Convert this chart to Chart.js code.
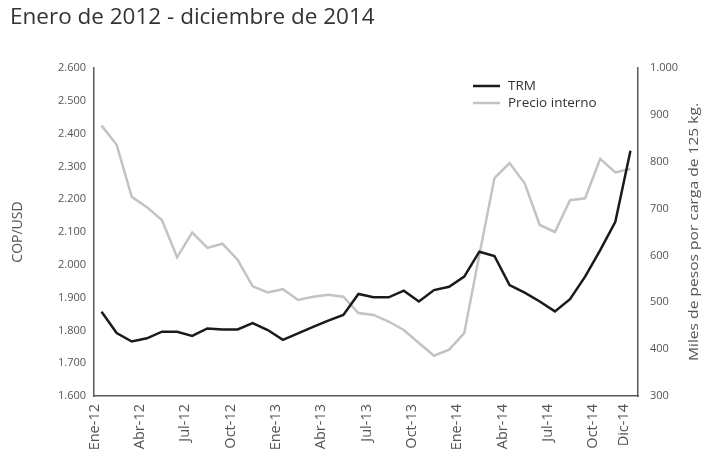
<!DOCTYPE html>
<html>
<head>
<meta charset="utf-8">
<script src="https://cdn.jsdelivr.net/npm/chart.js@4.4.1/dist/chart.umd.min.js"></script>
<style>
  html, body { margin: 0; padding: 0; background: #ffffff; }
  #wrap { width: 709px; height: 462px; }
</style>
</head>
<body>
<div id="wrap"><canvas id="c" width="709" height="462"></canvas></div>
<script>
const titleText = 'Enero de 2012 - diciembre de 2014';
const leftAxisTitle = 'COP/USD';
const rightAxisTitle = 'Miles de pesos por carga de 125 kg.';

const months = ['Ene','Feb','Mar','Abr','May','Jun','Jul','Ago','Sep','Oct','Nov','Dic'];
const years = ['12','13','14'];
const categories = [];
years.forEach(y => months.forEach(m => categories.push(m + '-' + y)));

const trm = [1857, 1792, 1766, 1776, 1796, 1796, 1783, 1806, 1803, 1803, 1822, 1801,
             1771, 1791, 1811, 1830, 1847, 1911, 1901, 1901, 1921, 1888, 1923, 1933,
             1964, 2040, 2027, 1938, 1915, 1888, 1858, 1895, 1964, 2045, 2131, 2348];
const precioInterno = [877, 836, 725, 703, 675, 596, 649, 616, 625, 591, 534, 521,
                       528, 505, 512, 516, 512, 477, 473, 459, 441, 413, 386, 399,
                       434, 601, 765, 797, 754, 665, 650, 718, 722, 806, 777, 785];

const leftTicks = { min: 1600, max: 2600, step: 100 };
const rightTicks = { min: 300, max: 1000, step: 100 };

const fmt = v => v.toLocaleString('de-DE', { minimumFractionDigits: 0 }).replace(',', '.');

const insideLegend = {
  id: 'insideLegend',
  afterDraw(chart) {
    const { ctx, chartArea } = chart;
    const x0 = chartArea.right - 165;
    chart.data.datasets.forEach((ds, i) => {
      const y = chartArea.top + 18 + i * 17;
      ctx.save();
      ctx.strokeStyle = ds.borderColor;
      ctx.lineWidth = 2.5;
      ctx.beginPath();
      ctx.moveTo(x0, y);
      ctx.lineTo(x0 + 27, y);
      ctx.stroke();
      ctx.fillStyle = '#333333';
      ctx.font = '13.5px "Open Sans"';
      ctx.textBaseline = 'middle';
      ctx.textAlign = 'left';
      ctx.fillText(ds.label, x0 + 35, y);
      ctx.restore();
    });
  }
};

const rightTitlePlugin = {
  id: 'rightTitle',
  afterDraw(chart) {
    const { ctx, chartArea } = chart;
    ctx.save();
    ctx.translate(chart.width - 14, (chartArea.top + chartArea.bottom) / 2);
    ctx.rotate(-Math.PI / 2);
    ctx.scale(1.3, 1);
    ctx.fillStyle = '#555555';
    ctx.font = '12px "Open Sans"';
    ctx.textAlign = 'center';
    ctx.textBaseline = 'middle';
    ctx.fillText(rightAxisTitle, 0, 0);
    ctx.restore();
  }
};

new Chart(document.getElementById('c'), {
  type: 'line',
  data: {
    labels: categories,
    datasets: [
      {
        label: 'TRM',
        data: trm,
        yAxisID: 'y',
        borderColor: '#1a1a1a',
        borderWidth: 2.5,
        pointRadius: 0,
        tension: 0,
        fill: false
      },
      {
        label: 'Precio interno',
        data: precioInterno,
        yAxisID: 'y2',
        borderColor: '#c3c3c3',
        borderWidth: 2.5,
        pointRadius: 0,
        tension: 0,
        fill: false
      }
    ]
  },
  options: {
    responsive: false,
    animation: false,
    layout: { padding: { left: 10, right: 0, top: 0, bottom: 0 } },
    plugins: {
      legend: { display: false },
      tooltip: { enabled: false },
      title: {
        display: true,
        text: titleText,
        align: 'start',
        color: '#333333',
        font: { family: '"Open Sans"', size: 22.5, weight: 'normal', lineHeight: 1.2 },
        padding: { top: 4, bottom: 37 }
      }
    },
    scales: {
      x: {
        type: 'category',
        offset: true,
        grid: { display: false, drawTicks: false },
        border: { display: true, color: '#5a5a5a', width: 1.5 },
        ticks: {
          autoSkip: false,
          maxRotation: 90,
          minRotation: 90,
          labelOffset: -7,
          padding: 8,
          color: '#555555',
          font: { family: '"Open Sans"', size: 14.5 },
          callback: function (value, index) {
            return (index % 3 === 0 || index === categories.length - 1) ? categories[index] : '';
          }
        },
        afterFit(scale) { scale.height = 66; }
      },
      y: {
        position: 'left',
        min: leftTicks.min,
        max: leftTicks.max,
        grid: { display: false, drawTicks: false },
        border: { display: true, color: '#5a5a5a', width: 1.5 },
        ticks: {
          stepSize: leftTicks.step,
          padding: 8,
          color: '#555555',
          font: { family: '"Open Sans"', size: 11 },
          callback: v => fmt(v)
        },
        title: {
          display: true,
          text: leftAxisTitle,
          color: '#555555',
          font: { family: '"Open Sans"', size: 14 },
          padding: { top: 0, bottom: 0 }
        },
        afterFit(scale) { scale.width = 84; }
      },
      y2: {
        position: 'right',
        min: rightTicks.min,
        max: rightTicks.max,
        grid: { display: false, drawTicks: false },
        border: { display: true, color: '#5a5a5a', width: 1.5 },
        ticks: {
          stepSize: rightTicks.step,
          padding: 12,
          color: '#555555',
          font: { family: '"Open Sans"', size: 11 },
          callback: v => fmt(v)
        },
        afterFit(scale) { scale.width = 71; }
      }
    }
  },
  plugins: [insideLegend, rightTitlePlugin]
});
</script>
</body>
</html>
